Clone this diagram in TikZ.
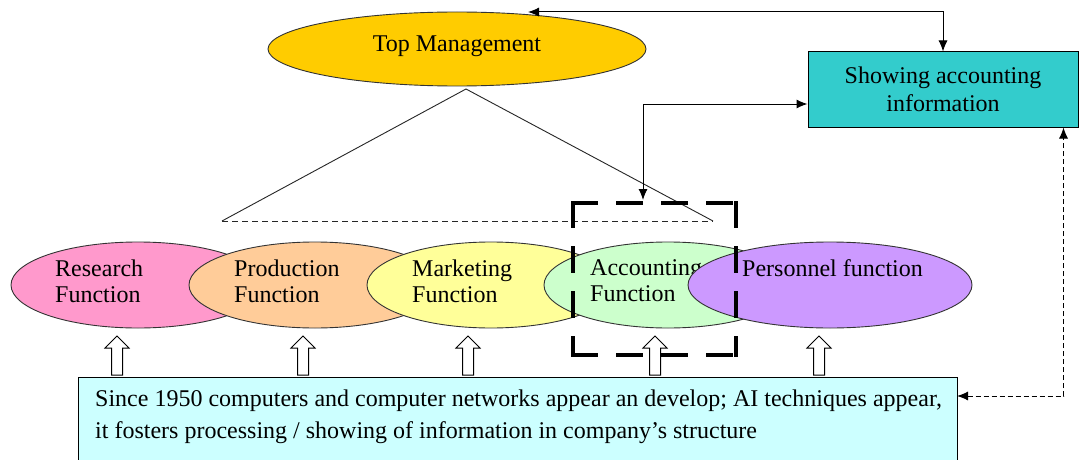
\documentclass[tikz,border=0pt]{standalone}
\usepackage{fontspec}
\setmainfont{Liberation Serif}
\usetikzlibrary{arrows.meta,shapes.geometric,calc}
\definecolor{tmcol}{HTML}{FFCC00}
\definecolor{showcol}{HTML}{33CCCC}
\definecolor{rescol}{HTML}{FF99CC}
\definecolor{prodcol}{HTML}{FFCC99}
\definecolor{mktcol}{HTML}{FFFF99}
\definecolor{acccol}{HTML}{CCFFCC}
\definecolor{percol}{HTML}{CC99FF}
\definecolor{botcol}{HTML}{CCFFFF}
\tikzset{
  ell/.style={ellipse, draw=black!80, line width=0.9pt, inner sep=0pt},
  fn/.style={ell, minimum height=86pt},
  lbl/.style={anchor=west, align=left, inner sep=0pt},
  conn/.style={line width=1pt, {Latex[length=11pt,width=9pt]}-{Latex[length=11pt,width=9pt]}},
  thin line/.style={line width=0.9pt, black!85},
  focusside/.style={line width=4.5pt, line cap=rect, dash pattern=on 23pt off 22pt},
  hollowup/.pic={\draw[fill=white, line width=1pt] (-5.5,0) -- (-5.5,-27) -- (-12,-27) -- (0,-39) -- (12,-27) -- (5.5,-27) -- (5.5,0) -- cycle;}
}
\begin{document}
\begin{tikzpicture}[x=1pt, y=-1pt, font=\fontsize{24}{26}\selectfont]
\useasboundingbox[fill=white] (0,0) rectangle (1079,460);

% top management
\node[ell, fill=tmcol, minimum width=378pt, minimum height=74pt] (tm) at (457,49) {};
\node (tmtxt) at (457,46) {Top Management};

% showing box
\node[draw, line width=1pt, fill=showcol, minimum width=270pt, minimum height=75pt, align=center,
      font=\fontsize{24}{30}\selectfont] (show) at (943,89.5) {Showing accounting\\[-2pt]information};

% triangle
\coordinate (apex) at (466,89);
\coordinate (tl) at (222,221);
\coordinate (tr) at (713,221);
\draw[thin line] (tl) -- (apex) -- (tr);
\draw[thin line, dashed, dash pattern=on 6pt off 4pt] (tl) -- (tr);

% function ellipses
\node[fn, fill=rescol, minimum width=254pt] (res) at (138,285) {};
\node[lbl] (restxt) at (55,281) {Research\\Function};
\node[fn, fill=prodcol, minimum width=252pt] (prod) at (315,285) {};
\node[lbl] (prodtxt) at (234,281) {Production\\Function};
\node[fn, fill=mktcol, minimum width=248pt] (mkt) at (491,285) {};
\node[lbl] (mkttxt) at (412,281) {Marketing\\Function};
\node[fn, fill=acccol, minimum width=248pt] (acc) at (668,285) {};
\node[lbl] (acctxt) at (590,281) {Accounting\\Function};
\node[fn, fill=percol, minimum width=284pt] (per) at (830,285) {};
\node[lbl] (pertxt) at (742,268) {Personnel function};

% focus rectangle
\node[minimum width=163pt, minimum height=152pt, inner sep=0pt] (focus) at (654.5,279) {};
\draw[focusside] (focus.north west) -- (focus.north east);
\draw[focusside] (focus.north east) -- (focus.south east);
\draw[focusside] (focus.north west) -- (focus.south west);
\draw[focusside] (focus.south west) -- (focus.south east);

% bottom box
\node[draw, line width=1pt, fill=botcol, minimum width=879pt, minimum height=110pt, anchor=north west, inner sep=0pt] (bot) at (78,377) {};
\node[anchor=north west, align=left, inner sep=0pt, font=\fontsize{24}{32}\selectfont] (bottxt) at (95,390)
  {Since 1950 computers and computer networks appear an develop; AI techniques appear,\\
   it fosters processing / showing of information in company’s structure};

% hollow arrows
\foreach \x in {117,303,468,655,819} { \pic at (\x,375) {hollowup}; }

% connectors
\coordinate (tmtop) at (528,12);
\draw[conn] (tmtop) -- (tmtop -| show.north) -- (show.north);
\coordinate (accin) at (643,200);
\coordinate (showin) at ($(show.west)+(0,14.5)$);
\draw[conn] (accin) |- (showin);
\coordinate (botin) at (957,396);
\coordinate (showout) at ($(show.south east)+(-15,0)$);
\draw[conn, dashed, dash pattern=on 5pt off 3pt] (botin) -| (showout);
\end{tikzpicture}
\end{document}
